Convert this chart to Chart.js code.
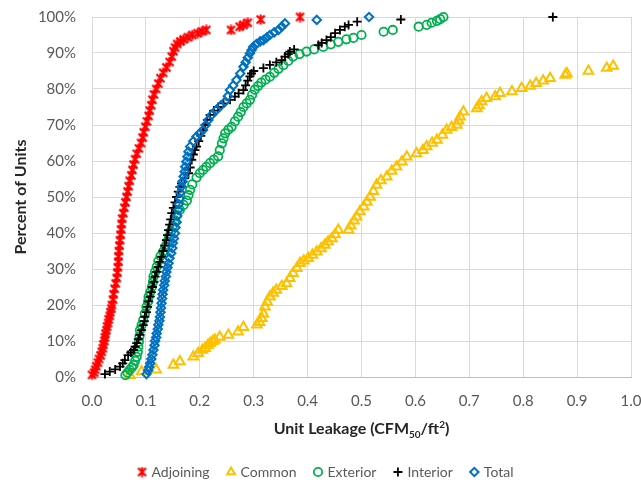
<!DOCTYPE html>
<html>
<head>
<meta charset="utf-8">
<title>Unit Leakage Distribution</title>
<script src="https://cdn.jsdelivr.net/npm/chart.js@4.4.1/dist/chart.umd.min.js"></script>
<style>
  html, body { margin: 0; padding: 0; background: #fff; }
  #wrap { width: 641px; height: 480px; }
</style>
</head>
<body>
<div id="wrap"><canvas id="leakageChart" width="641" height="480"></canvas></div>
<script>
const FONT = 'Lato, "Open Sans", sans-serif';
const TEXT_GREY = '#595959';

// Series names and marker colours, in plotting order
const seriesNames = ['Adjoining', 'Common', 'Exterior', 'Interior', 'Total'];
const seriesColors = ['#FF0000', '#FFC000', '#00B050', '#000000', '#0070C0'];

// Axis tick labels
const xTickLabels = ['0.0', '0.1', '0.2', '0.3', '0.4', '0.5', '0.6', '0.7', '0.8', '0.9', '1.0'];
const yTickLabels = ['0%', '10%', '20%', '30%', '40%', '50%', '60%', '70%', '80%', '90%', '100%'];

// [unit leakage CFM50/ft2, percent of units]
const adjoining = [
  [0.000, 0.6], [0.004, 1.2], [0.006, 2], [0.008, 3], [0.011, 4], [0.013, 5], [0.016, 6], [0.018, 7],
  [0.020, 8], [0.021, 9], [0.023, 10], [0.024, 11], [0.025, 12], [0.027, 13], [0.028, 14], [0.030, 15],
  [0.031, 16], [0.033, 17], [0.034, 18], [0.036, 19], [0.037, 20], [0.039, 21.5], [0.040, 23], [0.042, 24.5],
  [0.044, 26], [0.046, 27.5], [0.047, 29], [0.048, 30.5], [0.049, 32], [0.049, 33.5], [0.050, 35], [0.051, 36.5],
  [0.052, 38], [0.053, 39.5], [0.054, 41], [0.055, 42.5], [0.056, 44], [0.058, 45.5], [0.060, 47], [0.062, 48.5],
  [0.064, 50], [0.066, 51.5], [0.068, 53], [0.070, 54.5], [0.073, 56], [0.075, 57.5], [0.077, 59], [0.080, 60.5],
  [0.083, 62], [0.087, 63.5], [0.091, 65], [0.094, 66.5], [0.096, 68], [0.099, 69.5], [0.102, 71], [0.105, 72.5],
  [0.107, 74], [0.110, 75.5], [0.112, 77], [0.115, 78.5], [0.119, 80], [0.123, 81.5], [0.127, 83], [0.132, 84.5],
  [0.138, 86], [0.144, 87.5], [0.148, 89], [0.151, 90.5], [0.154, 91.5], [0.158, 92.5], [0.164, 93.2], [0.170, 93.8],
  [0.178, 94.4], [0.186, 95], [0.196, 95.5], [0.204, 96], [0.212, 96.4], [0.258, 96.4], [0.274, 97.3], [0.281, 97.8],
  [0.289, 98.4], [0.313, 99.3], [0.386, 100]
];

const common = [
  [0.070, 0.5], [0.092, 1.5], [0.119, 2], [0.151, 3.3], [0.163, 4.3], [0.188, 5.6], [0.197, 6.6], [0.205, 7.5],
  [0.210, 8], [0.215, 8.8], [0.219, 9.4], [0.224, 9.9], [0.228, 10.3], [0.237, 11.1], [0.253, 11.7], [0.271, 12.6],
  [0.281, 13.8], [0.306, 14.5], [0.311, 15.2], [0.315, 16.3], [0.318, 17.6], [0.321, 19.5], [0.325, 20.8], [0.330, 22.3],
  [0.336, 23.3], [0.342, 24.2], [0.352, 25.2], [0.361, 26], [0.367, 27.4], [0.373, 28.8], [0.380, 30.2], [0.386, 31.6],
  [0.393, 32.3], [0.401, 33], [0.409, 33.9], [0.417, 34.8], [0.425, 35.7], [0.432, 36.7], [0.438, 37.6], [0.445, 38.5],
  [0.451, 39.6], [0.457, 40.8], [0.476, 40.8], [0.480, 42], [0.486, 43.4], [0.491, 44.5], [0.497, 46], [0.504, 47.3],
  [0.510, 48.6], [0.516, 50], [0.522, 51.6], [0.528, 53.3], [0.536, 54.6], [0.547, 55.6], [0.556, 57.2], [0.565, 58.4],
  [0.575, 59.8], [0.584, 61.2], [0.602, 62.1], [0.614, 63], [0.621, 64], [0.631, 65], [0.640, 65.8], [0.650, 67.2],
  [0.658, 68.6], [0.667, 69.4], [0.677, 70], [0.680, 71.2], [0.683, 72.3], [0.689, 73.7], [0.714, 74.6], [0.718, 75.4],
  [0.723, 76.5], [0.732, 77.4], [0.748, 77.9], [0.757, 78.8], [0.779, 79.3], [0.797, 80.2], [0.813, 80.8], [0.824, 81.6],
  [0.837, 82.3], [0.850, 83], [0.878, 83.9], [0.881, 84.3], [0.921, 85], [0.955, 85.8], [0.967, 86.4]
];

const exterior = [
  [0.062, 0.5], [0.066, 1.2], [0.070, 2], [0.074, 2.7], [0.077, 3.3], [0.080, 4.5], [0.083, 5.6], [0.085, 7],
  [0.086, 8.4], [0.087, 9.8], [0.088, 11.3], [0.089, 13], [0.092, 14.4], [0.095, 15.8], [0.098, 17.6], [0.101, 19.5],
  [0.104, 21], [0.105, 22.3], [0.108, 23.6], [0.111, 25], [0.113, 26.4], [0.114, 27.9], [0.117, 29.2], [0.120, 30.6],
  [0.123, 32.2], [0.127, 33.6], [0.132, 34.8], [0.136, 36.2], [0.140, 37.6], [0.143, 39], [0.146, 40.5], [0.150, 42],
  [0.154, 43.5], [0.158, 45], [0.163, 46.4], [0.170, 47.8], [0.176, 49], [0.179, 50.5], [0.182, 52], [0.186, 53.5],
  [0.194, 55.4], [0.200, 56.6], [0.206, 57.5], [0.212, 58.4], [0.219, 59.4], [0.226, 60.4], [0.234, 61.3], [0.237, 63],
  [0.241, 64.9], [0.244, 66.3], [0.247, 67.7], [0.253, 68.7], [0.259, 69.5], [0.265, 71], [0.271, 72.3], [0.276, 73.6],
  [0.281, 75], [0.287, 76], [0.293, 77], [0.297, 78.4], [0.302, 79.8], [0.308, 80.8], [0.314, 81.8], [0.322, 82.6],
  [0.330, 83.4], [0.338, 84.5], [0.346, 85.6], [0.355, 86.6], [0.364, 87.8], [0.373, 89], [0.385, 89.7], [0.398, 90.4],
  [0.412, 91], [0.429, 91.7], [0.443, 92.4], [0.457, 93.1], [0.472, 93.8], [0.485, 94.2], [0.500, 95], [0.541, 95.9],
  [0.558, 96.4], [0.606, 97.3], [0.621, 97.8], [0.630, 98.4], [0.640, 98.9], [0.646, 99.4], [0.652, 100]
];

const interior = [
  [0.024, 0.8], [0.033, 1.5], [0.043, 2.1], [0.052, 2.9], [0.057, 3.8], [0.061, 4.7], [0.067, 6.1], [0.072, 6.8],
  [0.077, 7.5], [0.080, 8.4], [0.083, 9.4], [0.086, 10.5], [0.089, 11.7], [0.092, 13], [0.095, 14.4], [0.097, 15.5],
  [0.098, 16.7], [0.101, 18], [0.103, 19.5], [0.105, 21], [0.108, 22.3], [0.110, 23.6], [0.112, 25], [0.115, 26.4],
  [0.117, 27.9], [0.120, 29.2], [0.123, 30.6], [0.126, 32], [0.129, 33.4], [0.132, 35], [0.135, 36.5], [0.138, 38],
  [0.140, 39.4], [0.142, 40.8], [0.144, 42.3], [0.146, 43.8], [0.148, 45.5], [0.151, 47], [0.154, 48.5], [0.157, 50],
  [0.160, 51.5], [0.163, 52.8], [0.166, 53.8], [0.172, 55.2], [0.179, 56.6], [0.182, 58.2], [0.185, 60.3], [0.188, 61.8],
  [0.191, 63], [0.194, 64], [0.198, 65.5], [0.202, 67], [0.206, 68.6], [0.210, 70], [0.214, 71.4], [0.219, 72.8],
  [0.226, 74], [0.234, 75], [0.244, 76], [0.256, 77], [0.265, 77.9], [0.272, 78.8], [0.281, 79.7], [0.285, 81],
  [0.289, 82.3], [0.293, 83.5], [0.296, 84.3], [0.300, 85], [0.318, 85.8], [0.330, 86.7], [0.342, 87.4], [0.352, 88],
  [0.358, 89], [0.364, 89.7], [0.367, 90.4], [0.375, 91], [0.420, 92.2], [0.426, 92.8], [0.435, 93.6], [0.443, 94.4],
  [0.451, 95.5], [0.460, 96.4], [0.469, 97.3], [0.476, 97.8], [0.492, 98.7], [0.573, 99.3], [0.855, 100]
];

const total = [
  [0.101, 0.8], [0.104, 1.8], [0.106, 2.8], [0.108, 3.8], [0.110, 5], [0.112, 6.2], [0.114, 7.5], [0.116, 8.8],
  [0.117, 10], [0.119, 11], [0.120, 12.1], [0.122, 13.3], [0.123, 14.5], [0.125, 15.6], [0.126, 16.7], [0.127, 18],
  [0.128, 19.2], [0.129, 20.5], [0.130, 21.8], [0.131, 23], [0.132, 24.2], [0.134, 25.5], [0.135, 26.7], [0.137, 27.9],
  [0.138, 29.2], [0.140, 30.4], [0.142, 31.6], [0.144, 33], [0.147, 34.4], [0.149, 35.8], [0.150, 37.2], [0.152, 38.5],
  [0.154, 39.9], [0.155, 41.5], [0.157, 43], [0.158, 44.7], [0.160, 46.4], [0.161, 48], [0.163, 49.6], [0.164, 51.2],
  [0.166, 52.9], [0.168, 54.3], [0.170, 55.7], [0.172, 57], [0.173, 58.4], [0.175, 59.8], [0.177, 61.2], [0.179, 62.6],
  [0.182, 64], [0.188, 65.5], [0.194, 66.8], [0.200, 67.7], [0.206, 68.6], [0.211, 70], [0.216, 71.4], [0.222, 72.8],
  [0.231, 74.2], [0.239, 75.4], [0.247, 76.5], [0.252, 78], [0.256, 79.7], [0.262, 81], [0.268, 82.5], [0.275, 84.3],
  [0.281, 86.2], [0.285, 87.4], [0.289, 88.7], [0.293, 89.9], [0.296, 90.8], [0.299, 91.7], [0.305, 92.5], [0.312, 93.2],
  [0.318, 93.6], [0.324, 94.3], [0.330, 95], [0.338, 95.7], [0.346, 96.4], [0.352, 97.3], [0.358, 98.2], [0.417, 99.2],
  [0.514, 100]
];

// six-armed asterisk marker for the Adjoining series
function makeAsterisk(color) {
  const c = document.createElement('canvas');
  c.width = 11; c.height = 11;
  const g = c.getContext('2d');
  g.strokeStyle = color;
  g.lineWidth = 2.2;
  g.lineCap = 'butt';
  g.beginPath();
  g.moveTo(1.5, 1.5); g.lineTo(9.5, 9.5);
  g.moveTo(9.5, 1.5); g.lineTo(1.5, 9.5);
  g.moveTo(5.5, 0.5); g.lineTo(5.5, 10.5);
  g.stroke();
  return c;
}

const markers = [
  { pointStyle: makeAsterisk(seriesColors[0]), radius: 5, borderWidth: 1 },
  { pointStyle: 'triangle', radius: 5.5, borderWidth: 2 },
  { pointStyle: 'circle', radius: 4.2, borderWidth: 1.8 },
  { pointStyle: 'cross', radius: 4.5, borderWidth: 1.8 },
  { pointStyle: 'rectRot', radius: 4.2, borderWidth: 2 }
];

const seriesData = [adjoining, common, exterior, interior, total];

const datasets = seriesData.map((rows, i) => ({
  label: seriesNames[i],
  data: rows.map(([x, y]) => ({ x, y })),
  pointStyle: markers[i].pointStyle,
  pointRadius: markers[i].radius,
  pointBorderWidth: markers[i].borderWidth,
  pointBorderColor: seriesColors[i],
  pointBackgroundColor: 'rgba(0,0,0,0)',
  showLine: false,
  clip: false,
  order: seriesNames.length - i
}));

// x axis title with subscript / superscript
const axisTitlePlugin = {
  id: 'axisTitle',
  afterDraw(chart) {
    const { ctx, chartArea } = chart;
    const parts = [
      { t: 'Unit Leakage (CFM', size: 16, dy: 0 },
      { t: '50', size: 10, dy: 4 },
      { t: '/ft', size: 16, dy: 0 },
      { t: '2', size: 10, dy: -6 },
      { t: ')', size: 16, dy: 0 }
    ];
    ctx.save();
    ctx.fillStyle = '#262626';
    ctx.textBaseline = 'alphabetic';
    let width = 0;
    parts.forEach(p => {
      ctx.font = `bold ${p.size}px ${FONT}`;
      p.w = ctx.measureText(p.t).width;
      width += p.w;
    });
    let x = (chartArea.left + chartArea.right) / 2 - width / 2;
    const base = 434;
    parts.forEach(p => {
      ctx.font = `bold ${p.size}px ${FONT}`;
      ctx.fillText(p.t, x, base + p.dy);
      x += p.w;
    });
    ctx.restore();
  }
};

// legend row along the bottom
const legendPlugin = {
  id: 'bottomLegend',
  afterDraw(chart) {
    const { ctx } = chart;
    const y = 472;
    const gap = 5, spacing = 17, markW = 9;
    ctx.save();
    ctx.font = `14px ${FONT}`;
    const widths = seriesNames.map(n => ctx.measureText(n).width);
    const full = widths.reduce((a, w) => a + markW + gap + w, 0) + spacing * (seriesNames.length - 1);
    let x = chart.width / 2 + 5 - full / 2;
    seriesNames.forEach((name, i) => {
      ctx.strokeStyle = seriesColors[i];
      ctx.fillStyle = 'rgba(0,0,0,0)';
      ctx.lineWidth = markers[i].borderWidth;
      Chart.helpers.drawPoint(ctx, {
        pointStyle: markers[i].pointStyle,
        radius: Math.min(markers[i].radius, 4.5),
        rotation: 0,
        borderWidth: markers[i].borderWidth
      }, x + markW / 2, y);
      ctx.fillStyle = TEXT_GREY;
      ctx.textBaseline = 'middle';
      ctx.fillText(name, x + markW + gap, y);
      x += markW + gap + widths[i] + spacing;
    });
    ctx.restore();
  }
};

new Chart(document.getElementById('leakageChart'), {
  type: 'scatter',
  data: { datasets },
  options: {
    responsive: false,
    animation: false,
    events: [],
    layout: { padding: { top: 17, right: 10, bottom: 0, left: 0 } },
    plugins: {
      legend: { display: false },
      tooltip: { enabled: false }
    },
    scales: {
      x: {
        type: 'linear',
        min: 0,
        max: 1,
        afterFit: (scale) => {
          scale.height = 103;
          scale.paddingLeft = 0;
          scale.paddingRight = 0;
        },
        grid: { color: '#D9D9D9', drawTicks: false },
        border: { color: '#BFBFBF' },
        ticks: {
          stepSize: 0.1,
          padding: 15,
          color: TEXT_GREY,
          font: { family: FONT, size: 15 },
          callback: (v, i) => xTickLabels[i]
        }
      },
      y: {
        type: 'linear',
        min: 0,
        max: 100,
        afterFit: (scale) => {
          scale.width = 92;
          scale.paddingTop = 0;
          scale.paddingBottom = 0;
        },
        grid: { color: '#D9D9D9', drawTicks: false },
        border: { color: '#D9D9D9' },
        title: {
          display: true,
          text: 'Percent of Units',
          color: '#262626',
          font: { family: FONT, size: 16, weight: 'bold' },
          padding: { top: 11, bottom: 0 }
        },
        ticks: {
          stepSize: 10,
          padding: 16,
          color: TEXT_GREY,
          font: { family: FONT, size: 15 },
          callback: (v, i) => yTickLabels[i]
        }
      }
    }
  },
  plugins: [axisTitlePlugin, legendPlugin]
});
</script>
</body>
</html>
